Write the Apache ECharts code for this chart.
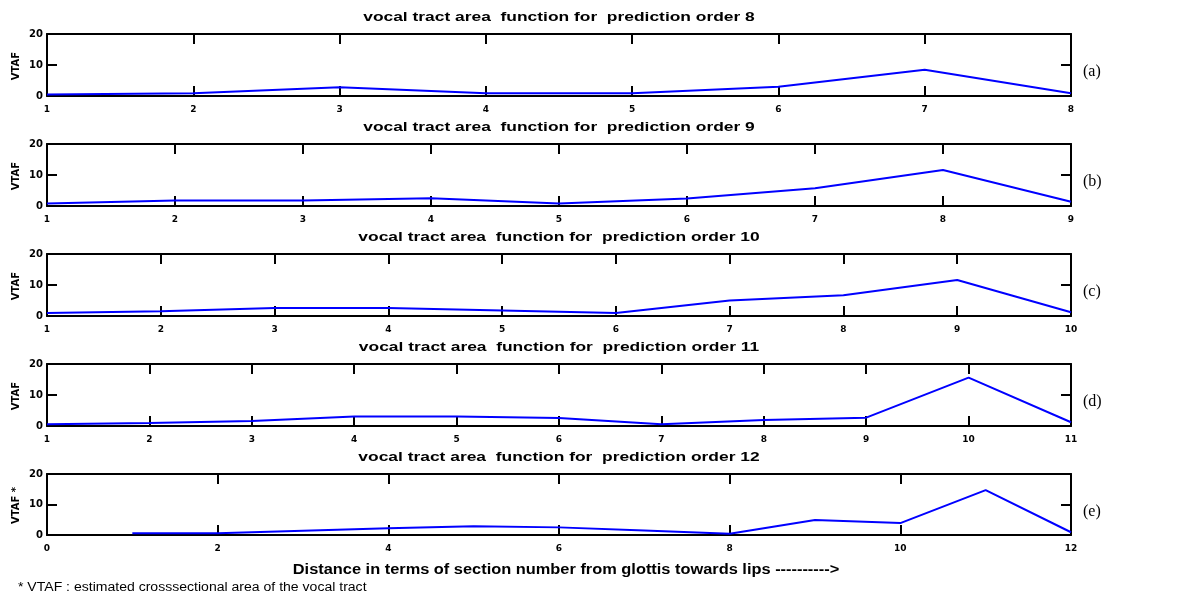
<!DOCTYPE html>
<html>
<head>
<meta charset="utf-8">
<script src="https://cdn.jsdelivr.net/npm/echarts@6/dist/echarts.min.js"></script>
<style>
html,body{margin:0;padding:0;background:#fff;}
#chart{width:1192px;height:609px;}
</style>
</head>
<body>
<div id="chart"></div>
<script>
// ---- data ----
const titles = [
  'vocal tract area  function for  prediction order 8',
  'vocal tract area  function for  prediction order 9',
  'vocal tract area  function for  prediction order 10',
  'vocal tract area  function for  prediction order 11',
  'vocal tract area  function for  prediction order 12'
];
const panelTags = ['(a)', '(b)', '(c)', '(d)', '(e)'];
const yNames = ['VTAF', 'VTAF', 'VTAF', 'VTAF', 'VTAF *'];
const xRanges = [[1, 8, 1], [1, 9, 1], [1, 10, 1], [1, 11, 1], [0, 12, 2]];
const sections8  = [1, 2, 3, 4, 5, 6, 7, 8];
const vtaf8      = [0.5, 0.9, 2.8, 0.9, 0.9, 3.0, 8.5, 0.9];
const sections9  = [1, 2, 3, 4, 5, 6, 7, 8, 9];
const vtaf9      = [0.8, 1.8, 1.8, 2.5, 0.8, 2.4, 5.7, 11.6, 1.4];
const sections10 = [1, 2, 3, 4, 5, 6, 7, 8, 9, 10];
const vtaf10     = [1.0, 1.5, 2.6, 2.6, 1.8, 1.0, 5.0, 6.7, 11.6, 1.2];
const sections11 = [1, 2, 3, 4, 5, 6, 7, 8, 9, 10, 11];
const vtaf11     = [0.6, 1.0, 1.6, 3.1, 3.1, 2.6, 0.6, 1.9, 2.7, 15.6, 1.2];
const sections12 = [1, 2, 3, 4, 5, 6, 7, 8, 9, 10, 11, 12];
const vtaf12     = [0.55, 0.6, 1.4, 2.2, 2.9, 2.5, 1.5, 0.4, 4.9, 3.9, 14.7, 0.9];
const yTicks = [0, 20, 10];
const xAxisName = 'Distance in terms of section number from glottis towards lips ---------->';
const footnote = '* VTAF : estimated crosssectional area of the vocal tract';

const xs = [sections8, sections9, sections10, sections11, sections12];
const ys = [vtaf8, vtaf9, vtaf10, vtaf11, vtaf12];

// ---- layout ----
const L = 47, R = 121;
const tops = [34, 144, 254, 364, 474];
const heights = [62, 62, 62, 62, 61];
const centerX = L + (1192 - L - R) / 2;

const chart = echarts.init(document.getElementById('chart'), null, {renderer: 'canvas'});
const grid = [], xAxis = [], yAxis = [], series = [], graphic = [];
const lineStyle = {color: '#000', width: 2};
const tickStyle = {color: '#000', width: 2};

for (let i = 0; i < 5; i++) {
  grid.push({left: L, right: R, top: tops[i], height: heights[i], containLabel: false});
  const [xmin, xmax, xint] = xRanges[i];
  xAxis.push({
    type: 'value', gridIndex: i, min: xmin, max: xmax, interval: xint, position: 'bottom',
    axisLine: {show: true, onZero: false, lineStyle},
    axisTick: {show: true, inside: true, length: 10, lineStyle: tickStyle},
    axisLabel: {show: true, margin: 9, color: '#000', fontFamily: 'DejaVu Sans', fontWeight: 'bold', fontSize: 9},
    splitLine: {show: false}
  });
  xAxis.push({
    type: 'value', gridIndex: i, min: xmin, max: xmax, interval: xint, position: 'top',
    axisLine: {show: true, onZero: false, lineStyle},
    axisTick: {show: true, inside: true, length: 10, lineStyle: tickStyle},
    axisLabel: {show: false}, splitLine: {show: false}
  });
  yAxis.push({
    type: 'value', gridIndex: i, min: yTicks[0], max: yTicks[1], interval: yTicks[2], position: 'left',
    axisLine: {show: true, onZero: false, lineStyle},
    axisTick: {show: true, inside: true, length: 10, lineStyle: tickStyle},
    axisLabel: {show: true, margin: 4, color: '#000', fontFamily: 'DejaVu Sans', fontWeight: 'bold', fontSize: 10},
    splitLine: {show: false}
  });
  yAxis.push({
    type: 'value', gridIndex: i, min: yTicks[0], max: yTicks[1], interval: yTicks[2], position: 'right',
    axisLine: {show: true, onZero: false, lineStyle},
    axisTick: {show: true, inside: true, length: 10, lineStyle: tickStyle},
    axisLabel: {show: false}, splitLine: {show: false}
  });
  series.push({
    type: 'line', xAxisIndex: 2 * i, yAxisIndex: 2 * i,
    data: xs[i].map((x, k) => [x, ys[i][k]]),
    showSymbol: false, symbol: 'none',
    lineStyle: {color: '#0000ff', width: 2},
    animation: false, z: 1
  });
  graphic.push({
    type: 'text', x: centerX, y: tops[i] - 16.5, scaleX: 1.45,
    style: {text: titles[i], fill: '#000', font: 'bold 12px "Liberation Sans"', align: 'center', verticalAlign: 'middle'}
  });
  graphic.push({
    type: 'text', x: 16, y: tops[i] + heights[i] / 2 + 1, rotation: Math.PI / 2,
    style: {text: yNames[i], fill: '#000', font: 'bold 10px "DejaVu Sans"', align: 'center', verticalAlign: 'middle'}
  });
  graphic.push({
    type: 'text', x: 1083, y: tops[i] + heights[i] / 2 + 7,
    style: {text: panelTags[i], fill: '#000', font: '16px "Liberation Serif"', align: 'left', verticalAlign: 'middle'}
  });
}
graphic.push({
  type: 'text', x: 566, y: 570, scaleX: 1.17,
  style: {text: xAxisName, fill: '#000', font: 'bold 14px "Liberation Sans"', align: 'center', verticalAlign: 'middle'}
});
graphic.push({
  type: 'text', x: 18, y: 588, scaleX: 1.17,
  style: {text: footnote, fill: '#000', font: '12px "Liberation Sans"', align: 'left', verticalAlign: 'middle'}
});

chart.setOption({
  animation: false,
  backgroundColor: '#fff',
  grid, xAxis, yAxis, series, graphic
});
</script>
</body>
</html>
